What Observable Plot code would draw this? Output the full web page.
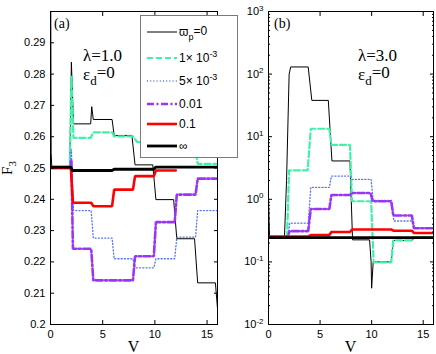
<!DOCTYPE html>
<html><head><meta charset="utf-8">
<script src="https://cdn.jsdelivr.net/npm/d3@7"></script>
<script src="https://cdn.jsdelivr.net/npm/@observablehq/plot@0.6"></script>
<style>
body{margin:0;background:#fff;}
#wrap{position:relative;width:436px;height:354px;overflow:hidden;}
#wrap > svg{position:absolute;top:0;}
</style></head><body><div id="wrap"></div>
<script>
// ---------- tick values / labels ----------
const V_TICKS = [0, 5, 10, 15];
const LEFT_Y_TICKS = [0.2, 0.21, 0.22, 0.23, 0.24, 0.25, 0.26, 0.27, 0.28, 0.29];
const LEFT_Y_LABELS = ["0.2", "0.21", "0.22", "0.23", "0.24", "0.25", "0.26", "0.27", "0.28", "0.29"];
const RIGHT_Y_TICKS = [0.01, 0.1, 1, 10, 100, 1000];
const RIGHT_Y_LABELS = ["10^-2", "10^-1", "10^0", "10^1", "10^2", "10^3"];
const RIGHT_Y_MINOR = [0.02,0.03,0.04,0.05,0.06,0.07,0.08,0.09,
  0.2,0.3,0.4,0.5,0.6,0.7,0.8,0.9, 2,3,4,5,6,7,8,9,
  20,30,40,50,60,70,80,90, 200,300,400,500,600,700,800,900];
const LEGEND_LABELS = ["ϖp=0", "1× 10^-3", "5× 10^-3", "0.01", "0.1", "∞"];

// ---------- panel (a): lambda = 1.0 ----------
const a_w0_V = [0, 0.06, 0.12, 1.85, 2.0, 2.2, 3.85, 3.95, 4.1, 5.9, 6.1, 7.8, 8.1, 9.8, 10.1, 11.8, 12.1, 13.8, 14.1, 15.8, 16];
const a_w0_F = [0.34, 0.255, 0.2505, 0.2505, 0.2838, 0.2641, 0.2641, 0.2696, 0.2655, 0.2655, 0.2604, 0.2604, 0.2510, 0.2510, 0.2399, 0.2399, 0.2274, 0.2274, 0.2133, 0.2133, 0.2051];
const a_e3_V = [0, 1.85, 2.0, 2.2, 3.85, 4.1, 5.9, 6.1, 7.9, 8.3, 13.8, 14.1, 16];
const a_e3_F = [0.25, 0.25, 0.2795, 0.2596, 0.2596, 0.2614, 0.2614, 0.2601, 0.2601, 0.2583, 0.2583, 0.2513, 0.2513];
const a_5e3_V = [0, 1.9, 2.0, 2.1, 2.2, 3.9, 4.1, 5.9, 6.1, 7.9, 8.1, 9.9, 10.1, 11.9, 12.1, 13.9, 14.1, 16];
const a_5e3_F = [0.25, 0.25, 0.256, 0.245, 0.2364, 0.2364, 0.2276, 0.2276, 0.221, 0.221, 0.2181, 0.2181, 0.221, 0.221, 0.2279, 0.2279, 0.2364, 0.2364];
const a_01_V = [0, 1.9, 2.0, 2.15, 3.9, 4.1, 7.9, 8.1, 9.9, 10.1, 11.9, 12.1, 13.9, 14.1, 16];
const a_01_F = [0.25, 0.25, 0.2524, 0.2242, 0.2242, 0.2141, 0.2141, 0.2218, 0.2218, 0.2327, 0.2327, 0.2415, 0.2415, 0.2466, 0.2466];
const a_1_V = [0, 1.95, 2.15, 3.9, 4.1, 5.9, 6.1, 7.9, 8.1, 9.9, 10.1, 12];
const a_1_F = [0.25, 0.25, 0.2389, 0.2389, 0.2378, 0.2378, 0.2431, 0.2431, 0.2474, 0.2474, 0.2492, 0.2492];
const a_inf_V = [0, 1.95, 2.1, 5.9, 6.1, 9.9, 10.1, 16];
const a_inf_F = [0.2503, 0.2503, 0.2492, 0.2492, 0.2496, 0.2496, 0.2503, 0.2503];

// ---------- panel (b): lambda = 3.0 ----------
const b_w0_V = [0, 0.1, 0.2, 1.55, 1.75, 2.0, 2.15, 3.85, 4.2, 5.8, 6.15, 7.9, 8.15, 9.8, 9.95, 10.0, 10.15, 11.9, 12.1, 13.9, 14.2, 16];
const b_w0_F = [1.0, 0.25, 0.25, 0.25, 2.0, 100, 130, 130, 38, 38, 4.1, 4.1, 0.225, 0.225, 0.1, 0.038, 0.1, 0.1, 0.22, 0.22, 0.245, 0.245];
const b_e3_V = [0, 1.8, 2.0, 3.8, 4.1, 5.9, 6.1, 7.9, 8.1, 9.95, 10.2, 11.9, 12.1, 13.9, 14.1, 16];
const b_e3_F = [0.25, 0.25, 2.9, 2.9, 13.4, 13.4, 7.4, 7.4, 0.93, 0.93, 0.098, 0.098, 0.22, 0.22, 0.25, 0.25];
const b_5e3_V = [0, 1.9, 2.05, 3.85, 4.1, 5.9, 6.1, 7.95, 8.1, 9.95, 10.15, 11.95, 12.15, 13.95, 14.15, 16];
const b_5e3_F = [0.25, 0.25, 0.415, 0.415, 1.55, 1.55, 2.35, 2.35, 2.08, 2.08, 0.96, 0.96, 0.45, 0.45, 0.35, 0.35];
const b_01_V = [0, 1.9, 2.05, 3.85, 4.1, 5.9, 6.1, 7.9, 8.1, 9.9, 10.1, 11.9, 12.1, 13.9, 14.1, 16];
const b_01_F = [0.25, 0.25, 0.31, 0.31, 0.70, 0.70, 1.17, 1.17, 1.26, 1.26, 0.93, 0.93, 0.55, 0.55, 0.345, 0.345];
const b_1_V = [0, 3.85, 4.1, 5.9, 6.1, 7.9, 8.1, 11.9, 12.1, 13.9, 14.1, 16];
const b_1_F = [0.255, 0.255, 0.268, 0.268, 0.30, 0.30, 0.33, 0.33, 0.315, 0.315, 0.29, 0.29];
const b_inf_V = [0, 16];
const b_inf_F = [0.245, 0.245];

// ---------- styles (order = legend order) ----------
const STYLES = [
  {color: "#000000", width: 1, dash: null},
  {color: "#3ef2a6", width: 2.2, dash: "6,3"},
  {color: "#5370ff", width: 1.3, dash: "1,2.2"},
  {color: "#9b35f5", width: 2.6, dash: "7,2.5,2,2.5"},
  {color: "#ff0000", width: 2.6, dash: null},
  {color: "#000000", width: 2.8, dash: null}
];

const curvesA = [[a_w0_V, a_w0_F], [a_e3_V, a_e3_F], [a_5e3_V, a_5e3_F], [a_01_V, a_01_F], [a_1_V, a_1_F], [a_inf_V, a_inf_F]];
const curvesB = [[b_w0_V, b_w0_F], [b_e3_V, b_e3_F], [b_5e3_V, b_5e3_F], [b_01_V, b_01_F], [b_1_V, b_1_F], [b_inf_V, b_inf_F]];

function panel({width, y, yTicks, yLabels, yMinor, curves}) {
  const marks = [];
  curves.forEach(([vs, fs], i) => {
    const data = vs.map((v, j) => ({V: v, F: fs[j]}));
    const s = STYLES[i];
    marks.push(Plot.line(data, {x: "V", y: "F", stroke: s.color, strokeWidth: s.width,
      strokeDasharray: s.dash, strokeLinejoin: "miter", clip: true}));
  });
  marks.push(Plot.frame({stroke: "black", strokeWidth: 1}));
  marks.push(Plot.axisX({ticks: V_TICKS, tickSize: -4, tickPadding: 10, tickFormat: d => String(d), label: null}));
  marks.push(Plot.axisX({anchor: "top", ticks: V_TICKS, tickSize: -4, tickFormat: () => "", label: null}));
  marks.push(Plot.axisY({ticks: yTicks, tickSize: -4, tickPadding: 9, tickFormat: d => yLabels[yTicks.indexOf(d)], label: null}));
  marks.push(Plot.axisY({anchor: "right", ticks: yTicks, tickSize: -4, tickFormat: () => "", label: null}));
  if (yMinor) {
    marks.push(Plot.axisY({ticks: yMinor, tickSize: -2, tickFormat: () => "", label: null}));
    marks.push(Plot.axisY({anchor: "right", ticks: yMinor, tickSize: -2, tickFormat: () => "", label: null}));
  }
  return Plot.plot({
    width, height: 354, marginLeft: 50, marginRight: 3, marginTop: 11, marginBottom: 30,
    style: {fontFamily: "'Liberation Sans', Arial, sans-serif", fontSize: "11px", background: "transparent", color: "black"},
    x: {domain: [0, 16]},
    y,
    marks
  });
}

const wrap = document.getElementById("wrap");
const svgA = panel({width: 220, y: {domain: [0.2, 0.3]}, yTicks: LEFT_Y_TICKS, yLabels: LEFT_Y_LABELS, curves: curvesA});
svgA.style.left = "0px";
const svgB = panel({width: 218, y: {type: "log", domain: [0.01, 1000]}, yTicks: RIGHT_Y_TICKS, yLabels: RIGHT_Y_LABELS, yMinor: RIGHT_Y_MINOR, curves: curvesB});
svgB.style.left = "218px";
wrap.appendChild(svgA);
wrap.appendChild(svgB);

// superscripts for 10^n tick labels
svgB.querySelectorAll("text").forEach(t => {
  const s = t.textContent;
  if (s.includes("^")) {
    const [base, exp] = s.split("^");
    t.textContent = "";
    d3.select(t).append("tspan").text(base);
    d3.select(t).append("tspan").attr("dy", "-0.55em").attr("font-size", "8px").text(exp);
  }
});

// ---------- overlay: legend, annotations, axis titles ----------
const ov = d3.select(wrap).append("svg").attr("width", 436).attr("height", 354)
  .style("left", "0px").style("pointer-events", "none");
const serif = "'Liberation Serif', 'Times New Roman', serif";
const sans = "'Liberation Sans', 'DejaVu Sans', Arial, sans-serif";

function sub(sel, x, y, main, subTxt, rest, size, subSize, family) {
  const t = sel.append("text").attr("x", x).attr("y", y).attr("font-family", family).attr("font-size", size);
  t.append("tspan").text(main);
  t.append("tspan").attr("dy", "0.42em").attr("font-size", subSize).text(subTxt);
  if (rest) t.append("tspan").attr("dy", "-0.42em").text(rest);
  return t;
}

// panel labels
ov.append("text").attr("x", 54).attr("y", 28).attr("font-family", serif).attr("font-size", 14).text("(a)");
ov.append("text").attr("x", 274).attr("y", 28).attr("font-family", serif).attr("font-size", 14).text("(b)");
// lambda / epsilon annotations
ov.append("text").attr("x", 83).attr("y", 61).attr("font-family", serif).attr("font-size", 17).text("λ=1.0");
sub(ov, 83, 80, "ε", "d", "=0", 17, 13, serif);
ov.append("text").attr("x", 358).attr("y", 61).attr("font-family", serif).attr("font-size", 17).text("λ=3.0");
sub(ov, 358, 80, "ε", "d", "=0", 17, 13, serif);
// axis titles
ov.append("text").attr("x", 133.5).attr("y", 352).attr("text-anchor", "middle").attr("font-family", serif).attr("font-size", 16).text("V");
ov.append("text").attr("x", 350.5).attr("y", 352).attr("text-anchor", "middle").attr("font-family", serif).attr("font-size", 16).text("V");
const fl = ov.append("text").attr("transform", "translate(12,168) rotate(-90)").attr("text-anchor", "middle")
  .attr("font-family", serif).attr("font-size", 15);
fl.append("tspan").text("F");
fl.append("tspan").attr("dy", "0.4em").attr("font-size", 11).text("3");

// legend
const lg = ov.append("g");
lg.append("rect").attr("x", 140.5).attr("y", 15.5).attr("width", 97).attr("height", 142)
  .attr("fill", "white").attr("stroke", "#7a7a7a").attr("stroke-width", 1);
const rowsY = [32, 58, 81, 104, 124, 146];
LEGEND_LABELS.forEach((lab, i) => {
  const s = STYLES[i];
  const y = rowsY[i];
  lg.append("line").attr("x1", 147).attr("x2", 177).attr("y1", y).attr("y2", y)
    .attr("stroke", s.color).attr("stroke-width", s.width).attr("stroke-dasharray", s.dash);
  const t = lg.append("text").attr("x", 179).attr("y", y + 4).attr("font-family", sans).attr("font-size", 12);
  if (i === 0) {
    t.append("tspan").text("ϖ");
    t.append("tspan").attr("dy", "0.4em").attr("font-size", 9).text("p");
    t.append("tspan").attr("dy", "-0.4em").text("=0");
  } else if (lab.includes("^")) {
    const [base, exp] = lab.split("^");
    t.append("tspan").text(base);
    t.append("tspan").attr("dy", "-0.55em").attr("font-size", 9).text(exp);
  } else {
    t.text(lab);
  }
});
</script>
</body></html>
